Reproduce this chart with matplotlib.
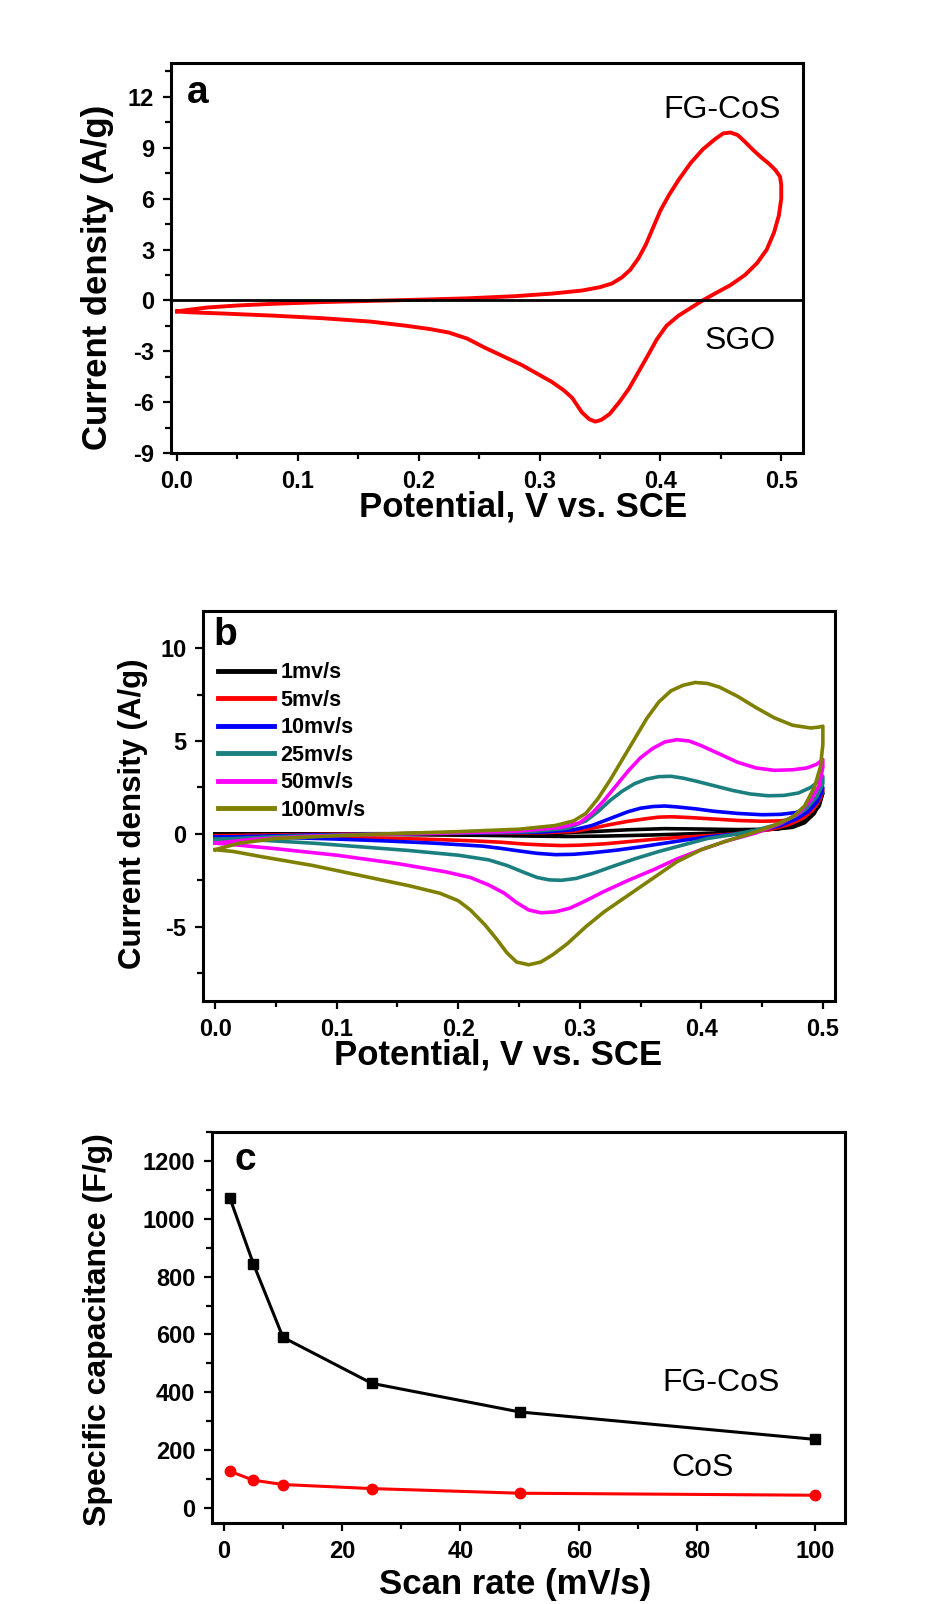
import matplotlib

matplotlib.use("Agg")
import matplotlib.pyplot as plt  # noqa: E402
from matplotlib.ticker import MultipleLocator  # noqa: E402

plt.rcParams["font.family"] = ["Liberation Sans", "DejaVu Sans"]
plt.rcParams["axes.unicode_minus"] = False

# ---- panel a: single CV loop (FG-CoS), forward then reverse sweep
a_v = [0.000, 0.010, 0.025, 0.050, 0.080, 0.120, 0.160, 0.200, 0.240, 0.280,
       0.310, 0.335, 0.350, 0.360, 0.368, 0.375, 0.382, 0.388, 0.394, 0.400,
       0.407, 0.415, 0.425, 0.435, 0.445, 0.452, 0.458, 0.464, 0.470, 0.477,
       0.484, 0.490, 0.495, 0.499,
       0.500, 0.500, 0.498, 0.494, 0.488, 0.480, 0.470, 0.458, 0.445, 0.435,
       0.425, 0.415, 0.405, 0.397, 0.390, 0.382, 0.374, 0.366, 0.358, 0.351,
       0.346, 0.341, 0.335, 0.327, 0.320, 0.310, 0.300, 0.285, 0.270, 0.255,
       0.240, 0.225, 0.210, 0.190, 0.160, 0.120, 0.080, 0.040, 0.010, 0.000]
a_j = [-0.65, -0.55, -0.42, -0.30, -0.20, -0.10, -0.03, 0.04, 0.12, 0.25,
       0.40, 0.58, 0.78, 1.00, 1.35, 1.80, 2.50, 3.30, 4.30, 5.30,
       6.20, 7.10, 8.10, 8.90, 9.50, 9.85, 9.90, 9.75, 9.35, 8.85,
       8.40, 8.05, 7.70, 7.30,
       6.80, 6.00, 5.00, 4.00, 3.00, 2.20, 1.50, 0.90, 0.40, 0.00,
       -0.45, -0.90, -1.50, -2.30, -3.20, -4.20, -5.20, -6.00, -6.70, -7.05,
       -7.15, -7.00, -6.60, -5.75, -5.30, -4.80, -4.40, -3.80, -3.30, -2.80,
       -2.25, -1.90, -1.70, -1.50, -1.25, -1.05, -0.90, -0.78, -0.70, -0.65]

# ---- panel b: CV loops at different scan rates
b_labels = ["1mv/s", "5mv/s", "10mv/s", "25mv/s", "50mv/s", "100mv/s"]
b_colors = ["#000000", "#ff0000", "#0000ff", "#1b7f7f", "#ff00ff", "#808000"]

v_1 = [0, 0.1, 0.2, 0.28, 0.31, 0.34, 0.37, 0.4, 0.43, 0.46, 0.475, 0.485, 0.493, 0.5,
       0.497, 0.49, 0.48, 0.465, 0.44, 0.4, 0.36, 0.32, 0.29, 0.26, 0.22, 0.15, 0.08, 0]
j_1 = [0.0, 0.0, 0.02, 0.05, 0.12, 0.22, 0.28, 0.26, 0.23, 0.25, 0.35, 0.6, 1.1, 2.2,
       1.5, 0.95, 0.55, 0.3, 0.12, 0.02, -0.06, -0.12, -0.14, -0.12, -0.08, -0.04, -0.02, 0.0]

v_5 = [0, 0.1, 0.2, 0.27, 0.295, 0.31, 0.325, 0.34, 0.355, 0.365, 0.375, 0.39, 0.41, 0.43,
       0.45, 0.465, 0.478, 0.488, 0.495, 0.5,
       0.498, 0.492, 0.484, 0.472, 0.458, 0.44, 0.42, 0.4, 0.38, 0.36, 0.34, 0.32, 0.3,
       0.285, 0.27, 0.255, 0.235, 0.21, 0.17, 0.12, 0.06, 0]
j_5 = [-0.1, -0.02, 0.03, 0.06, 0.13, 0.3, 0.5, 0.68, 0.82, 0.9, 0.92, 0.88, 0.8, 0.72,
       0.68, 0.7, 0.8, 1.1, 1.6, 2.35,
       1.9, 1.3, 0.85, 0.5, 0.25, 0.08, -0.04, -0.12, -0.2, -0.3, -0.42, -0.54, -0.61,
       -0.63, -0.6, -0.55, -0.45, -0.37, -0.28, -0.21, -0.14, -0.1]

v_10 = [0, 0.08, 0.15, 0.22, 0.27, 0.295, 0.31, 0.32, 0.33, 0.34, 0.35, 0.36, 0.37, 0.38,
        0.395, 0.41, 0.43, 0.45, 0.465, 0.478, 0.488, 0.495, 0.5,
        0.499, 0.495, 0.488, 0.478, 0.465, 0.45, 0.43, 0.41, 0.39, 0.37, 0.35, 0.33, 0.31,
        0.295, 0.28, 0.265, 0.25, 0.235, 0.22, 0.18, 0.14, 0.1, 0.05, 0]
j_10 = [-0.18, -0.06, 0.0, 0.05, 0.1, 0.22, 0.45, 0.7, 0.95, 1.2, 1.38, 1.47, 1.5, 1.45,
        1.35, 1.22, 1.1, 1.03, 1.05, 1.15, 1.4, 1.85, 2.5,
        2.2, 1.7, 1.2, 0.8, 0.45, 0.2, 0.0, -0.13, -0.3, -0.5, -0.7, -0.88, -1.02,
        -1.1, -1.12, -1.05, -0.92, -0.78, -0.66, -0.5, -0.38, -0.28, -0.18, -0.18]

v_25 = [0, 0.05, 0.12, 0.2, 0.26, 0.29, 0.305, 0.315, 0.325, 0.335, 0.345, 0.355, 0.365,
        0.375, 0.385, 0.395, 0.41, 0.425, 0.44, 0.455, 0.468, 0.48, 0.49, 0.497, 0.5,
        0.5, 0.495, 0.487, 0.477, 0.462, 0.445, 0.425, 0.405, 0.385, 0.365, 0.345, 0.325,
        0.31, 0.297, 0.285, 0.275, 0.265, 0.255, 0.24, 0.225, 0.2, 0.16, 0.12, 0.08, 0.04, 0]
j_25 = [-0.3, -0.15, -0.03, 0.05, 0.12, 0.3, 0.7, 1.2, 1.8, 2.3, 2.7, 2.95, 3.08,
        3.1, 3.0, 2.85, 2.6, 2.35, 2.15, 2.05, 2.07, 2.2, 2.5, 2.85, 3.1,
        2.7, 2.0, 1.4, 0.95, 0.5, 0.2, -0.05, -0.25, -0.6, -0.95, -1.35, -1.8,
        -2.15, -2.4, -2.5, -2.48, -2.35, -2.1, -1.7, -1.4, -1.15, -0.9, -0.7, -0.5, -0.35, -0.3]

v_50 = [0, 0.03, 0.08, 0.15, 0.2, 0.25, 0.285, 0.3, 0.31, 0.32, 0.33, 0.34, 0.35, 0.36,
        0.37, 0.38, 0.39, 0.4, 0.415, 0.43, 0.445, 0.46, 0.475, 0.487, 0.495, 0.5,
        0.5, 0.497, 0.49, 0.48, 0.465, 0.445, 0.42, 0.4, 0.38, 0.36, 0.34, 0.32, 0.305,
        0.292, 0.28, 0.268, 0.258, 0.248, 0.238, 0.225, 0.21, 0.19, 0.15, 0.1, 0.05, 0.015, 0]
j_50 = [-0.5, -0.3, -0.12, 0.0, 0.06, 0.15, 0.35, 0.6, 1.1, 1.8, 2.6, 3.4, 4.1, 4.6,
        4.95, 5.07, 5.0, 4.75, 4.3, 3.85, 3.55, 3.42, 3.45, 3.55, 3.75, 4.0,
        3.6, 2.6, 1.8, 1.1, 0.55, 0.05, -0.4, -0.85, -1.35, -1.95, -2.5, -3.1, -3.6,
        -4.0, -4.2, -4.25, -4.1, -3.7, -3.2, -2.75, -2.35, -2.05, -1.6, -1.15, -0.8, -0.58, -0.5]

v_100 = [0, 0.02, 0.05, 0.1, 0.15, 0.2, 0.25, 0.28, 0.295, 0.305, 0.315, 0.325, 0.335,
         0.345, 0.355, 0.365, 0.375, 0.385, 0.395, 0.405, 0.415, 0.43, 0.445, 0.46, 0.475,
         0.49, 0.497, 0.5,
         0.5, 0.498, 0.493, 0.485, 0.475, 0.46, 0.44, 0.42, 0.4, 0.38, 0.36, 0.34, 0.32,
         0.305, 0.29, 0.278, 0.268, 0.258, 0.248, 0.24, 0.232, 0.222, 0.21, 0.2, 0.185,
         0.16, 0.12, 0.08, 0.04, 0.015, 0]
j_100 = [-0.85, -0.5, -0.25, -0.1, 0.02, 0.12, 0.25, 0.45, 0.7, 1.1, 1.9, 2.9, 4.0,
         5.1, 6.2, 7.1, 7.7, 8.0, 8.15, 8.1, 7.9, 7.4, 6.8, 6.25, 5.85,
         5.7, 5.75, 5.8,
         4.8, 3.6, 2.5, 1.5, 0.9, 0.45, 0.0, -0.4, -0.85, -1.5, -2.4, -3.3, -4.2,
         -5.0, -5.9, -6.5, -6.9, -7.05, -6.9, -6.4, -5.7, -4.9, -4.1, -3.6, -3.2,
         -2.8, -2.25, -1.7, -1.25, -0.95, -0.85]

b_v = [v_1, v_5, v_10, v_25, v_50, v_100]
b_j = [j_1, j_5, j_10, j_25, j_50, j_100]

# ---- panel c: specific capacitance vs scan rate
scan_rate = [1, 5, 10, 25, 50, 100]
cap_fgcos = [1073, 844, 590, 431, 332, 237]
cap_cos = [127, 96, 81, 67, 51, 44]

W, H = 953, 1604
fig = plt.figure(figsize=(W / 100, H / 100), dpi=100)


def box(x0, y0, x1, y1):
    return [x0 / W, 1 - y1 / H, (x1 - x0) / W, (y1 - y0) / H]


def style(ax):
    for s in ax.spines.values():
        s.set_linewidth(2.2)
    ax.tick_params(which="both", direction="out", top=False, right=False,
                   width=1.6, labelsize=17, pad=6)
    ax.tick_params(which="major", length=6)
    ax.tick_params(which="minor", length=4)
    for t in ax.get_xticklabels() + ax.get_yticklabels():
        t.set_fontweight("bold")


# ---------------- a
ax = fig.add_axes(box(171, 63, 803, 453))
ax.plot(a_v, a_j, color="#ff0000", lw=2.8)
ax.axhline(0, color="black", lw=2.0)
ax.set_xlim(-0.005, 0.518)
ax.set_ylim(-9, 14)
ax.set_xticks([0, 0.1, 0.2, 0.3, 0.4, 0.5])
ax.set_xticklabels(["0.0", "0.1", "0.2", "0.3", "0.4", "0.5"])
ax.xaxis.set_minor_locator(MultipleLocator(0.05))
ax.set_yticks([-9, -6, -3, 0, 3, 6, 9, 12])
ax.yaxis.set_minor_locator(MultipleLocator(1.5))
style(ax)
ax.set_xlabel("Potential, V vs. SCE", fontsize=25, fontweight="bold", va="top")
ax.xaxis.set_label_coords(0.557, -0.095)
ax.set_ylabel("Current density (A/g)", fontsize=25, fontweight="bold", va="center")
ax.yaxis.set_label_coords(-0.117, 0.451)
ax.text(0.025, 0.897, "a", transform=ax.transAxes, fontsize=28,
        fontweight="bold", ha="left", va="baseline")
ax.text(0.451, 11.2, "FG-CoS", fontsize=23, ha="center", va="center")
ax.text(0.466, -2.4, "SGO", fontsize=23, ha="center", va="center")

# ---------------- b
ax = fig.add_axes(box(203, 611, 835, 1001))
for v, j, lab, col in zip(b_v, b_j, b_labels, b_colors):
    ax.plot(v, j, color=col, lw=2.6, label=lab)
ax.set_xlim(-0.01, 0.51)
ax.set_ylim(-9, 12)
ax.set_xticks([0, 0.1, 0.2, 0.3, 0.4, 0.5])
ax.set_xticklabels(["0.0", "0.1", "0.2", "0.3", "0.4", "0.5"])
ax.xaxis.set_minor_locator(MultipleLocator(0.05))
ax.set_yticks([-5, 0, 5, 10])
ax.yaxis.set_minor_locator(MultipleLocator(2.5))
style(ax)
ax.set_xlabel("Potential, V vs. SCE", fontsize=25, fontweight="bold", va="top")
ax.xaxis.set_label_coords(0.467, -0.095)
ax.set_ylabel("Current density (A/g)", fontsize=22.5, fontweight="bold", va="center")
ax.yaxis.set_label_coords(-0.111, 0.479)
ax.text(0.016, 0.913, "b", transform=ax.transAxes, fontsize=28,
        fontweight="bold", ha="left", va="baseline")
leg = ax.legend(loc="upper left", bbox_to_anchor=(0.024, 0.868), frameon=False,
                prop={"size": 15.5, "weight": "bold"}, handlelength=2.6,
                handletextpad=0.3, labelspacing=0.3, borderpad=0, borderaxespad=0)
for ln in leg.get_lines():
    ln.set_linewidth(3.5)

# ---------------- c
ax = fig.add_axes(box(212, 1132, 845, 1523))
ax.plot(scan_rate, cap_fgcos, color="black", lw=2.2, marker="s", ms=6.5)
ax.plot(scan_rate, cap_cos, color="#ff0000", lw=2.2, marker="o", ms=7.5)
ax.set_xlim(-2, 105)
ax.set_ylim(-52, 1300)
ax.xaxis.set_major_locator(MultipleLocator(20))
ax.xaxis.set_minor_locator(MultipleLocator(10))
ax.set_yticks([0, 200, 400, 600, 800, 1000, 1200])
ax.yaxis.set_minor_locator(MultipleLocator(100))
style(ax)
ax.set_xlabel("Scan rate (mV/s)", fontsize=25, fontweight="bold", va="top")
ax.xaxis.set_label_coords(0.479, -0.115)
ax.set_ylabel("Specific capacitance (F/g)", fontsize=23, fontweight="bold",
              va="center")
ax.yaxis.set_label_coords(-0.18, 0.494)
ax.text(0.036, 0.903, "c", transform=ax.transAxes, fontsize=28,
        fontweight="bold", ha="left", va="baseline")
ax.text(84, 433, "FG-CoS", fontsize=23, ha="center", va="center")
ax.text(81, 139, "CoS", fontsize=23, ha="center", va="center")

fig.savefig("out.png", dpi=100, facecolor="white")
